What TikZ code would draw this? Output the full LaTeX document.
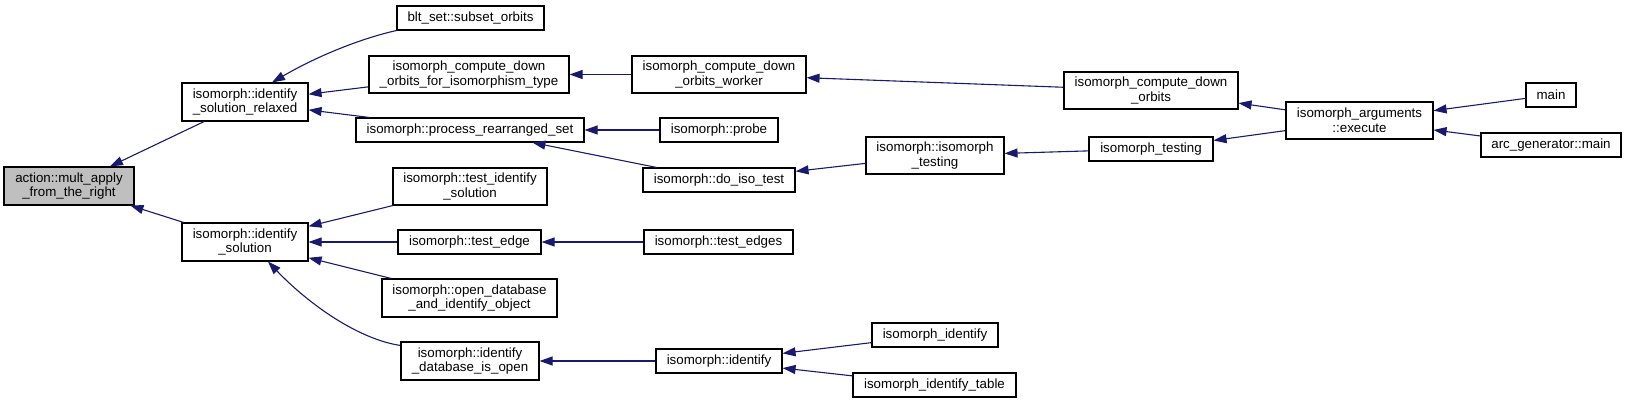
\documentclass[tikz,border=0pt]{standalone}
\usepackage{fontspec}
\setmainfont{Liberation Sans}
\usetikzlibrary{arrows.meta,calc}
\definecolor{edgeblue}{HTML}{191970}
\definecolor{selgray}{HTML}{BFBFBF}
\tikzset{
  fn/.style={draw=black, line width=1.1pt, fill=white, rectangle, inner sep=0pt,
    align=center, font=\fontsize{13.33}{14.8}\selectfont},
  sel/.style={fn, fill=selgray},
  edge/.style={draw=edgeblue, line width=1.1pt,
    -{Triangle[length=13pt,width=9pt]}},
}
\begin{document}
\begin{tikzpicture}[x=1pt,y=-1pt]
\useasboundingbox (0,0) rectangle (1627,403);
% rank 0
\node[sel, minimum width=130, minimum height=38] (act) at (69,186) {action::mult\_apply\\\_from\_the\_right};
% rank 1
\node[fn, minimum width=126, minimum height=38] (rel) at (245,102) {isomorph::identify\\\_solution\_relaxed};
\node[fn, minimum width=126, minimum height=38] (ids) at (245,242) {isomorph::identify\\\_solution};
% rank 2
\node[fn, minimum width=147, minimum height=24] (blt) at (470.5,18) {blt\_set::subset\_orbits};
\node[fn, minimum width=200, minimum height=37] (cdot) at (469,74.5) {isomorph\_compute\_down\\\_orbits\_for\_isomorphism\_type};
\node[fn, minimum width=228, minimum height=24] (proc) at (470,130) {isomorph::process\_rearranged\_set};
\node[fn, minimum width=154, minimum height=37] (tid) at (470,186.5) {isomorph::test\_identify\\\_solution};
\node[fn, minimum width=143, minimum height=24] (tedge) at (469.5,242) {isomorph::test\_edge};
\node[fn, minimum width=175, minimum height=38] (odb) at (469.5,298) {isomorph::open\_database\\\_and\_identify\_object};
\node[fn, minimum width=138, minimum height=38] (idb) at (470,361) {isomorph::identify\\\_database\_is\_open};
% rank 3
\node[fn, minimum width=174, minimum height=37] (worker) at (719,74.5) {isomorph\_compute\_down\\\_orbits\_worker};
\node[fn, minimum width=118, minimum height=24] (probe) at (719,130) {isomorph::probe};
\node[fn, minimum width=152, minimum height=24] (doiso) at (719,180) {isomorph::do\_iso\_test};
\node[fn, minimum width=149, minimum height=24] (tedges) at (718.5,242) {isomorph::test\_edges};
\node[fn, minimum width=126, minimum height=24] (ident) at (719,361) {isomorph::identify};
% rank 4
\node[fn, minimum width=138, minimum height=37] (iit) at (935,155.5) {isomorph::isomorph\\\_testing};
\node[fn, minimum width=126, minimum height=24] (iid) at (935,335) {isomorph\_identify};
\node[fn, minimum width=163, minimum height=24] (iidt) at (934.5,385) {isomorph\_identify\_table};
% rank 5
\node[fn, minimum width=174, minimum height=37] (cdo) at (1151,90.5) {isomorph\_compute\_down\\\_orbits};
\node[fn, minimum width=124, minimum height=24] (itest) at (1151,149) {isomorph\_testing};
% rank 6
\node[fn, minimum width=147, minimum height=37] (exec) at (1359.5,120.5) {isomorph\_arguments\\::execute};
% rank 7
\node[fn, minimum width=50, minimum height=24] (main) at (1551,95) {main};
\node[fn, minimum width=140, minimum height=24] (arc) at (1551,145) {arc\_generator::main};
% edges
\draw[edge] (rel) -- (act);
\draw[edge] (ids) -- (act);
\draw[edge] (blt.south west) .. controls +(-32,7) and +(48,-28) .. ($(rel.north)+(27,0)$);
\draw[edge] (cdot) -- (rel);
\draw[edge] (proc) -- (rel);
\draw[edge] (tid) -- (ids);
\draw[edge] (tedge) -- (ids);
\draw[edge] (odb) -- (ids);
\draw[edge] ($(idb.north west)+(0,4)$) .. controls +(-41,-6) and +(42,44) .. ($(ids.south)+(23,0)$);
\draw[edge] (worker) -- (cdot);
\draw[edge] (probe) -- (proc);
\draw[edge] (doiso) -- (proc);
\draw[edge] (tedges) -- (tedge);
\draw[edge] (ident) -- (idb);
\draw[edge] (iit) -- (doiso);
\draw[edge] (iid) -- (ident);
\draw[edge] (iidt) -- (ident);
\draw[edge] (cdo) -- (worker);
\draw[edge] (itest) -- (iit);
\draw[edge] (exec) -- (cdo);
\draw[edge] (exec) -- (itest);
\draw[edge] (main) -- (exec);
\draw[edge] (arc) -- (exec);
\end{tikzpicture}
\end{document}
